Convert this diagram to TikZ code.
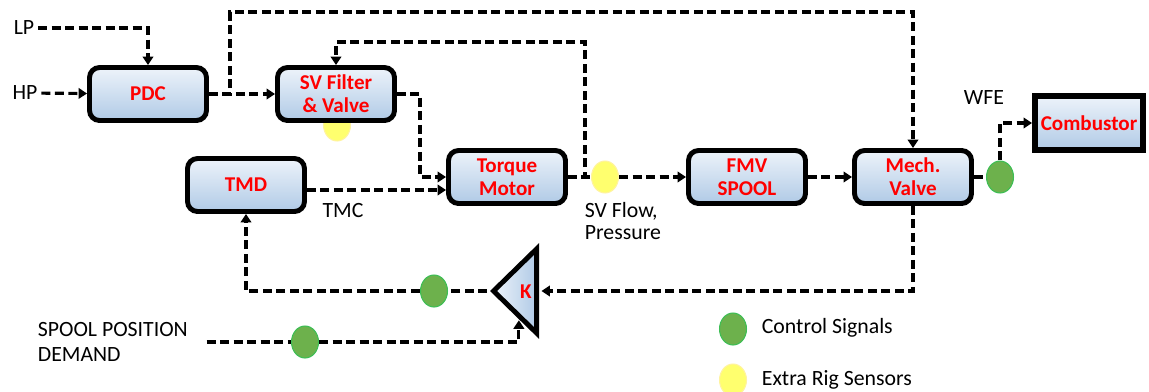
\documentclass[tikz,border=0pt]{standalone}
\usepackage{fontspec}
\setmainfont{Carlito}
\usetikzlibrary{arrows.meta,shapes.geometric}
\definecolor{bxtop}{HTML}{EDF3FA}
\definecolor{bxbot}{HTML}{B0CAE6}
\definecolor{lblred}{HTML}{FF0000}
\definecolor{sgreen}{HTML}{6DB14C}
\definecolor{sgreenline}{HTML}{3DBE55}
\definecolor{syellow}{HTML}{FFFF6E}
\definecolor{syellowline}{HTML}{FFF3A0}

\begin{document}
\begin{tikzpicture}[x=0.02cm,y=-0.02cm,
    n/.style={draw=black,line width=2.8pt,rounded corners=2mm,top color=bxtop,
    bottom color=bxbot,minimum width=2.34cm,minimum height=1.06cm,align=center,
    inner sep=1pt,font=\fontsize{12}{13}\selectfont\bfseries,text=lblred},
    t/.style={font=\fontsize{12.4}{12.6}\selectfont,inner sep=2pt},
    dl/.style={line width=1.8pt,dash pattern=on 0.18cm off 0.09cm},
    a/.style={dl,-{Triangle[length=1.7mm,width=2.1mm]}},
    gs/.style={ellipse,draw=sgreenline,fill=sgreen,line width=0.6pt,inner sep=0pt,
    minimum width=0.54cm,minimum height=0.64cm},
    ys/.style={gs,draw=syellowline,fill=syellow}]
    \useasboundingbox (0,0) rectangle (1149,392);
    \node[t] (lp) at (24,28) {LP};
    \node[t] (hp) at (25,93) {HP};
    \node[ys] (y1) at (337,125) {};
    \node[n] (pdc) at (148,94) {PDC};
    \node[n] (sv) at (336,94) {SV Filter\\\& Valve};
    \node[n] (tmd) at (246,185) {TMD};
    \node[n] (tm) at (507,177) {Torque\\Motor};
    \node[n] (fmv) at (747,177) {FMV\\SPOOL};
    \node[n] (mv) at (913,177) {Mech.\\Valve};
    \node[n,rounded corners=0pt,line width=3.4pt,minimum width=2.16cm,
      minimum height=1.08cm] (cb) at (1089,123) {Combustor};
    \node[isosceles triangle,shape border rotate=180,isosceles triangle stretches,
      minimum width=1.68cm,minimum height=0.86cm,draw,line width=2.8pt,inner sep=0pt,
      left color=bxtop,right color=bxbot,anchor=lower side] (k) at (539,291) {};
    \node[font=\fontsize{12}{13}\selectfont\bfseries,text=lblred] (kl) at (526,292) {K};
    \node[ys] (y2) at (605,177) {};
    \node[gs] (g1) at (434,291) {};
    \node[gs] (g2) at (305,342) {};
    \node[gs] (g3) at (1000,177) {};
    % labels
    \node[t] (tmc) at (343,211) {TMC};
    \node[t,anchor=west,align=left] (svf) at (581,221) {SV Flow,\\Pressure};
    \node[t] (wfe) at (984,98) {WFE};
    \node[t,anchor=west,align=left] (spd) at (34,342) {SPOOL POSITION\\[2pt]DEMAND};
    % legend
    \node[gs] (lg) at (733,329) {};
    \node[ys] (ly) at (733,380) {};
    \node[t,anchor=west] (lgt) at (758,328) {Control Signals};
    \node[t,anchor=west] (lyt) at (758,380) {Extra Rig Sensors};
    \coordinate (top) at (230,12);
    \coordinate (loop) at (585,42);
    \coordinate (tmlo) at ([yshift=-0.26cm]tm.west);
    \draw[a] (lp) -| (pdc); \draw[a] (hp) -- (pdc); \draw[a] (pdc) -- (sv);
    \draw[a] (pdc.east) -| (top) -| (mv);
    \draw[a] (sv.east) -- ++(23,0) |- (tm.west);
    \draw[a] (tmd.east |- tmlo) -- (tmlo);
    \draw[a] (tm.east) -| (loop) -| (sv);
    \draw[dl] (tm) -- (y2); \draw[a] (y2) -- (fmv); \draw[a] (fmv) -- (mv);
    \draw[dl] (mv) -- (g3); \draw[a] (g3) |- (cb);
    \draw[a,shorten >=1.4pt] (mv) |- (k.lower side);
    \draw[dl] (k.apex) -- (g1); \draw[a] (g1) -| (tmd);
    \draw[dl] ([xshift=0.3cm]spd.east) -- (g2); \draw[a] (g2) -| (k.south);
\end{tikzpicture}
\end{document}
